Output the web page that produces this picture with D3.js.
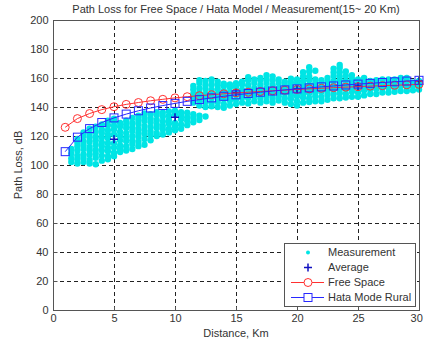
<!DOCTYPE html>
<html>
<head>
<meta charset="utf-8">
<script src="https://cdn.jsdelivr.net/npm/d3@7"></script>
<style>
  body { margin: 0; background: #fff; }
  svg { display: block; font-family: "Liberation Sans", Arial, sans-serif; }
</style>
</head>
<body>
<svg id="chart" width="424" height="342"></svg>
<script>
// distance (km) of the model curves
const distances = d3.range(1, 31);
const freeSpace = [126, 132, 135.5, 138.2, 140.2, 141.8, 143.1, 144.3, 145.3, 146.3,
  147.1, 147.8, 148.5, 149.1, 149.7, 150.2, 150.7, 151.2, 151.6, 152.1,
  152.5, 152.9, 153.3, 153.7, 154.0, 154.4, 154.7, 155.0, 155.3, 155.6];
const hata = [109.2, 119.2, 125.1, 129.3, 132.5, 135.1, 137.4, 139.3, 141.0, 142.5,
  143.9, 145.1, 146.3, 147.4, 148.4, 149.3, 150.2, 151.0, 151.8, 152.5,
  153.2, 153.9, 154.5, 155.2, 155.8, 156.3, 156.9, 157.4, 157.9, 158.4];
const avgDist = [5, 10, 15, 20, 25, 30];
const avgLoss = [117.7, 132.9, 149.8, 152.4, 154.5, 158.0];

// measurement cloud, one column of losses per distance
const measDist = [1.5, 2, 2.5, 3, 3.5, 4, 4.5, 5, 5.5, 6, 6.5, 7, 7.5, 8, 8.5, 9, 9.5, 10, 10.5, 11, 11.5, 12, 12.5,
  11.5, 12, 12.5, 13, 13.5, 14, 14.5, 15, 15.5, 16, 16.5, 17, 17.5, 18, 18.5, 19, 19.5, 20,
  20.5, 21, 21.5, 22, 22.5, 23, 23.5, 24, 24.5, 25, 25.5, 26, 26.5, 27, 27.5, 28, 28.5, 29, 29.5, 30];
const measLoss = [
  [102, 104.5, 108, 111],
  [101, 104, 106.5, 110, 113, 115.5, 118],
  [102, 105, 107.5, 111, 114, 116.5, 120, 122.5],
  [101, 103.5, 107, 110, 112.5, 116, 119, 121.5, 125],
  [100.5, 105, 108, 110.5, 114, 117, 119.5, 123, 126.5],
  [103, 106.5, 110, 113, 115.5, 119, 122, 124.5, 128],
  [104, 106, 109.5, 112, 115, 118.5, 121, 124, 127.5, 130.5],
  [106, 108.5, 112, 115, 121, 124.5, 127, 130, 132],
  [109, 111, 113.5, 117, 120, 123, 126.5, 129],
  [110, 113, 116.5, 119, 122, 125.5, 128, 130.5],
  [111, 114.5, 117, 120, 123.5, 126, 129, 132.5],
  [113, 116, 119.5, 122, 125, 128.5, 131, 134],
  [114, 118, 121.5, 124, 127, 130.5, 133, 135.5],
  [117, 120.5, 123, 126, 129.5, 132, 135],
  [120, 122, 125.5, 128, 131, 134.5, 136.5],
  [121, 124.5, 127, 130, 133.5, 136],
  [122.5, 125, 128.5, 131, 134, 137],
  [124, 126.5, 129, 135, 137.5],
  [125, 128, 131.5, 134, 136.5],
  [127.5, 130.5, 133, 136],
  [129.5, 132.5, 135],
  [131, 134],
  [133.5],
  [143, 146.5, 149, 152, 154.5],
  [141, 144, 147.5, 150, 153, 156.5, 158.5],
  [140, 143.5, 146, 149, 152.5, 155, 158],
  [140.5, 143, 146.5, 149, 152, 155.5, 159],
  [140, 143.5, 146, 149, 152.5, 155, 157.5],
  [139.5, 142, 145.5, 148, 151, 154.5, 156],
  [141, 144.5, 147, 150, 153.5, 155.5],
  [142, 145, 148.5, 151, 154, 156.5],
  [143, 146.5, 149, 152, 155.5, 157.5],
  [142.5, 146, 149.5, 152, 155, 158.5, 160.5],
  [144, 147.5, 150, 153, 156.5, 159],
  [143, 146, 149.5, 152, 155, 158.5, 160],
  [144, 147.5, 150, 153, 156.5, 159, 162],
  [143, 146, 149.5, 152, 155, 158.5, 161],
  [144.5, 147.5, 150, 153, 156.5, 159],
  [143, 146, 149.5, 152, 155, 157.5],
  [142, 145.5, 148, 151, 154.5, 157, 159.5],
  [141, 144, 147.5, 150, 153, 156.5, 159],
  [143, 146.5, 149, 152, 155.5, 158, 161, 164],
  [143.5, 146, 149.5, 152, 155, 158.5, 161, 164.5, 167.5],
  [144, 147.5, 150, 153, 156.5, 159, 165],
  [144, 147, 150.5, 153, 156, 158.5],
  [145, 148.5, 151, 154, 157.5, 160],
  [146, 149, 152.5, 155, 158, 161.5, 164, 166.5],
  [146, 149.5, 152, 155, 158.5, 161, 164, 167, 169],
  [146.5, 149, 152.5, 155, 158, 161.5, 164.5],
  [147, 150.5, 153, 156, 159.5, 162],
  [147, 150, 153.5, 156, 159],
  [148, 151.5, 154, 157, 160],
  [149, 152, 155.5, 158],
  [149, 152.5, 155, 158.5],
  [150, 153, 156.5, 159],
  [150, 153.5, 156, 159],
  [150.5, 153, 156.5, 159],
  [151, 154.5, 157, 160],
  [151, 154, 157.5, 160],
  [151.5, 154.5, 157],
  [152, 155, 158]
];
const xTicks = [0, 5, 10, 15, 20, 25, 30];
const yTicks = [0, 20, 40, 60, 80, 100, 120, 140, 160, 180, 200];

const svg = d3.select("#chart");
const margin = {left: 53, right: 5, top: 20, bottom: 32};
const W = 424, H = 342;
const x = d3.scaleLinear().domain([0, 30]).range([margin.left, W - margin.right]);
const y = d3.scaleLinear().domain([0, 200]).range([H - margin.bottom, margin.top]);

const textColor = "#333";
const axisColor = "#555";

// grid
const grid = svg.append("g")
    .attr("stroke", "#222")
    .attr("stroke-width", 1)
    .attr("stroke-dasharray", "4,3");
grid.selectAll(".gx").data(xTicks.slice(1, -1)).join("line")
    .attr("x1", d => Math.round(x(d)) + 0.5).attr("x2", d => Math.round(x(d)) + 0.5)
    .attr("y1", y(0)).attr("y2", y(200));
grid.selectAll(".gy").data(yTicks.slice(1, -1)).join("line")
    .attr("y1", d => Math.round(y(d)) + 0.5).attr("y2", d => Math.round(y(d)) + 0.5)
    .attr("x1", x(0)).attr("x2", x(30));

// measurement points
const meas = [];
measDist.forEach((d, i) => measLoss[i].forEach(v => meas.push([d, v])));
svg.append("g").attr("fill", "#00e5e5")
    .selectAll("circle").data(meas).join("circle")
    .attr("cx", d => x(d[0])).attr("cy", d => y(d[1])).attr("r", 3.2);

// average
svg.append("g").attr("stroke", "#1010c0").attr("stroke-width", 1.5)
    .selectAll("path").data(avgDist.map((d, i) => [d, avgLoss[i]])).join("path")
    .attr("d", d => `M${x(d[0]) - 4},${y(d[1])}h8M${x(d[0])},${y(d[1]) - 4}v8`);

const line = d3.line().x(d => x(d[0])).y(d => y(d[1]));
const fsData = distances.map((d, i) => [d, freeSpace[i]]);
const hataData = distances.map((d, i) => [d, hata[i]]);

// free space
const red = "#ff3030";
svg.append("path").datum(fsData).attr("d", line)
    .attr("fill", "none").attr("stroke", red).attr("stroke-width", 1);
svg.append("g").attr("fill", "none").attr("stroke", red)
    .selectAll("circle").data(fsData).join("circle")
    .attr("cx", d => x(d[0])).attr("cy", d => y(d[1])).attr("r", 4);

// hata
const blue = "#2828ff";
svg.append("path").datum(hataData).attr("d", line)
    .attr("fill", "none").attr("stroke", blue).attr("stroke-width", 1);
svg.append("g").attr("fill", "none").attr("stroke", blue)
    .selectAll("rect").data(hataData).join("rect")
    .attr("x", d => x(d[0]) - 4).attr("y", d => y(d[1]) - 4)
    .attr("width", 8).attr("height", 8);

// axes box
svg.append("rect")
    .attr("x", x(0) + 0.5).attr("y", y(200) + 0.5)
    .attr("width", x(30) - x(0)).attr("height", y(0) - y(200))
    .attr("fill", "none").attr("stroke", axisColor);

const xAxis = svg.append("g").attr("transform", `translate(0,${y(0) + 0.5})`)
    .call(d3.axisBottom(x).tickValues(xTicks).tickSize(-4).tickPadding(4));
const yAxis = svg.append("g").attr("transform", `translate(${x(0) + 0.5},0)`)
    .call(d3.axisLeft(y).tickValues(yTicks).tickSize(-4).tickPadding(5));
[xAxis, yAxis].forEach(a => {
  a.select(".domain").remove();
  a.selectAll("line").attr("stroke", axisColor);
  a.selectAll("text").attr("fill", textColor).attr("font-size", 11)
      .attr("font-family", "Liberation Sans, Arial, sans-serif");
});
xAxis.selectAll(".tick:last-of-type text").attr("text-anchor", "end").attr("dx", "0.3em");

// titles
svg.append("text").attr("x", (x(0) + x(30)) / 2).attr("y", 13)
    .attr("text-anchor", "middle").attr("font-size", 11).attr("fill", textColor)
    .text("Path Loss for Free Space / Hata Model / Measurement(15~ 20 Km)");
svg.append("text").attr("x", (x(0) + x(30)) / 2).attr("y", 337)
    .attr("text-anchor", "middle").attr("font-size", 11).attr("fill", textColor)
    .text("Distance, Km");
svg.append("text").attr("transform", `translate(22,${(y(0) + y(200)) / 2}) rotate(-90)`)
    .attr("text-anchor", "middle").attr("font-size", 11).attr("fill", textColor)
    .text("Path Loss, dB");

// legend
const lg = svg.append("g").attr("transform", "translate(284,243)");
lg.append("rect").attr("x", 0.5).attr("y", 0.5).attr("width", 131).attr("height", 63)
    .attr("fill", "#fff").attr("stroke", axisColor);
const items = ["Measurement", "Average", "Free Space", "Hata Mode Rural"];
items.forEach((name, i) => {
  const cy = 9.5 + i * 15;
  const g = lg.append("g").attr("transform", `translate(0,${cy})`);
  if (i === 0) g.append("circle").attr("cx", 24).attr("r", 2).attr("fill", "#00e5e5");
  if (i === 1) g.append("path").attr("d", "M20,0h8M24,-4v8").attr("stroke", "#1010c0").attr("stroke-width", 1.5);
  if (i === 2) {
    g.append("line").attr("x1", 7).attr("x2", 40).attr("stroke", red);
    g.append("circle").attr("cx", 24).attr("r", 4).attr("fill", "#fff").attr("stroke", red);
  }
  if (i === 3) {
    g.append("line").attr("x1", 7).attr("x2", 40).attr("stroke", blue);
    g.append("rect").attr("x", 20).attr("y", -4).attr("width", 8).attr("height", 8)
        .attr("fill", "#fff").attr("stroke", blue);
  }
  g.append("text").attr("x", 44).attr("dy", "0.35em").attr("font-size", 11)
      .attr("fill", textColor).text(name);
});
</script>
</body>
</html>
